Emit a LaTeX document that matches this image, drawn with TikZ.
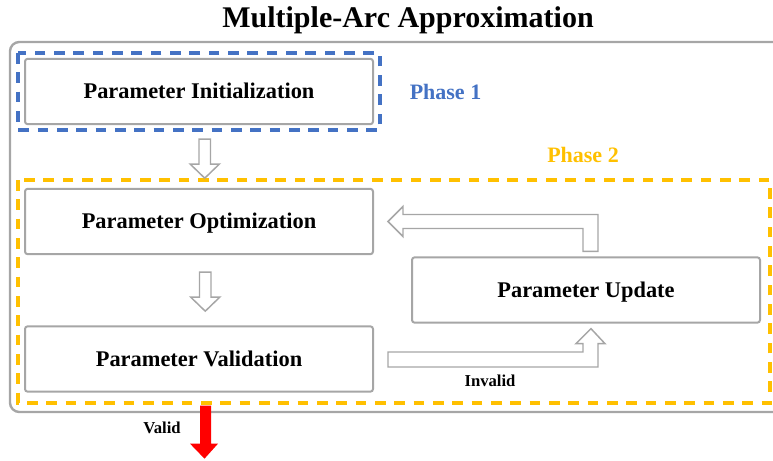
\documentclass[tikz,border=0pt]{standalone}
\usepackage{fontspec}
\setmainfont{Liberation Serif}
\usepackage{tikz}
\usetikzlibrary{calc,positioning}
\definecolor{boxgray}{HTML}{A6A6A6}
\definecolor{phaseblue}{HTML}{4472C4}
\definecolor{phasegold}{HTML}{FFC000}
\def\dnarrow#1{\draw[hollow] #1 -- ++(11.5,0) -- ++(0,25) -- ++(8.75,0) -- ++(-14.5,14) -- ++(-14.5,-14) -- ++(8.75,0) -- cycle;}

\begin{document}
\begin{tikzpicture}[x=0.75pt,y=-0.75pt,
    box node/.style={draw=boxgray,line width=1.5pt,rounded corners=2pt,fill=white,
      minimum width=261pt,minimum height=49pt,text height=11pt,text depth=0pt,
      font=\fontsize{16.8}{20}\selectfont\bfseries},
    hollow/.style={draw=boxgray,line width=1.1pt,fill=white},
    phase box/.style={line width=2.6pt,dash pattern=on 8pt off 6.5pt},
    small label/.style={font=\fontsize{12.5}{15}\selectfont\bfseries}]

    \clip (0,0) rectangle (773,460);
    \node[font=\fontsize{22.5}{27}\selectfont\bfseries,text height=15pt,text depth=0pt] (title) at (408,18) {Multiple-Arc Approximation};
    \draw[boxgray,line width=1.8pt,rounded corners=7pt] (10,42) rectangle (800,412);

    \node[box node] (1) at (199,91.5) {Parameter Initialization};
    \node[box node] (2) at (199,221.5) {Parameter Optimization};
    \node[box node] (3) at (199,359) {Parameter Validation};
    \node[box node] (4) at (586,290) {Parameter Update};

    % phases
    \draw[phase box,phaseblue] (18,53) rectangle (380,130);
    \draw[phase box,phasegold] (18,180) rectangle (770,403);
    \node[text=phaseblue,font=\fontsize{16.5}{20}\selectfont\bfseries] (p1) at (445.5,92) {Phase 1};
    \node[text=phasegold,font=\fontsize{16.5}{20}\selectfont\bfseries] (p2) at (583,155) {Phase 2};

    % block arrows
    \dnarrow{($(1.south)+(0,14)$)}
    \dnarrow{($(2.south)+(0.5,17)$)}
    \draw[hollow] ($(4.north)+(12,-5)$) |- ($(2.east)+(29,-7)$) -- ++(0,-8)
        -- ($(2.east)+(14,0)$) -- ++(15,15) -- ++(0,-8) -| ($(4.north)+(-3,-5)$) -- cycle;
    \draw[hollow] ($(3.east)+(14,-7)$) -| ($(4.south)+(-3,20)$) -- ++(-7,0)
        -- ($(4.south)+(5,5)$) -- ++(14,15) -- ++(-7,0) |- ($(3.east)+(14,8)$) -- cycle;
    \node[small label] (inv) at (490,381) {Invalid};

    \fill[red] ($(3.south)+(1,13)$) -- ++(11,0) -- ++(0,38) -- ++(7,0) -- ++(-13.5,15)
        -- ++(-14.5,-15) -- ++(10,0) -- cycle;
    \node[small label] (val) at (162,428) {Valid};
\end{tikzpicture}
\end{document}
